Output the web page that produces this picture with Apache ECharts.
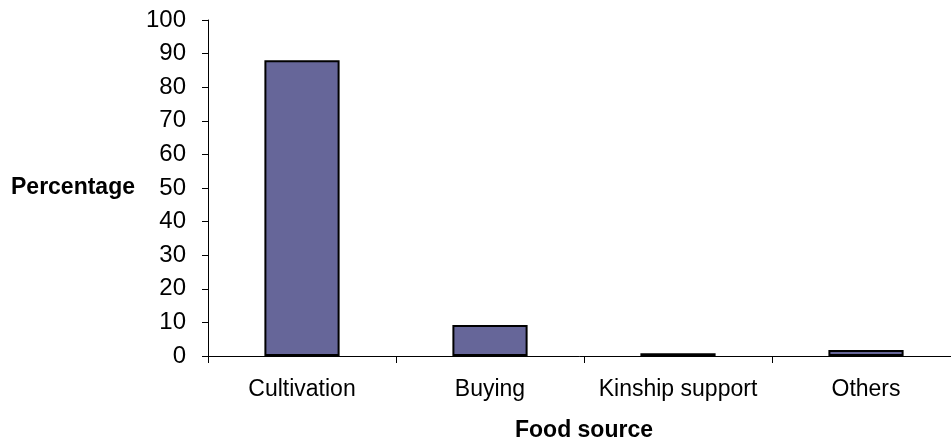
<!DOCTYPE html>
<html>
<head>
<meta charset="utf-8">
<script src="https://cdn.jsdelivr.net/npm/echarts@6/dist/echarts.min.js"></script>
<style>
  html, body { margin: 0; padding: 0; background: #fff; }
  #chart { width: 951px; height: 444px; }
</style>
</head>
<body>
<div id="chart"></div>
<script>
// Main sources of household food
const categories = ['Cultivation', 'Buying', 'Kinship support', 'Others'];
const percentages = [88, 9.2, 0.8, 1.8];
const yTicks = { min: 0, max: 100, interval: 10 };

const chart = echarts.init(document.getElementById('chart'));
const font = 'Liberation Sans, Arial, sans-serif';

chart.setOption({
  animation: false,
  grid: { left: 208, top: 20, width: 752, height: 336, containLabel: false, outerBoundsMode: 'none' },
  xAxis: {
    type: 'category',
    data: categories,
    name: 'Food source',
    nameLocation: 'middle',
    nameGap: 63,
    nameTextStyle: { fontFamily: font, fontSize: 23, fontWeight: 'bold', color: '#000' },
    axisLine: { lineStyle: { color: '#000', width: 1 } },
    axisTick: { show: true, alignWithLabel: false, interval: 0, length: 7, inside: false, lineStyle: { color: '#000' } },
    axisLabel: { fontFamily: font, fontSize: 23, color: '#000', margin: 22, interval: 0, hideOverlap: false }
  },
  yAxis: {
    type: 'value',
    min: yTicks.min,
    max: yTicks.max,
    interval: yTicks.interval,
    name: 'Percentage',
    nameLocation: 'middle',
    nameRotate: 0,
    nameGap: 73,
    nameTextStyle: { fontFamily: font, fontSize: 23, fontWeight: 'bold', color: '#000' },
    axisLine: { show: true, lineStyle: { color: '#000', width: 1 } },
    axisTick: { show: true, length: 6, lineStyle: { color: '#000' } },
    axisLabel: { fontFamily: font, fontSize: 24, color: '#000', margin: 22 },
    splitLine: { show: false }
  },
  series: [{
    type: 'bar',
    data: percentages,
    barWidth: '40%',
    itemStyle: { color: '#666699', borderColor: '#000', borderWidth: 2 }
  }]
});
</script>
</body>
</html>
